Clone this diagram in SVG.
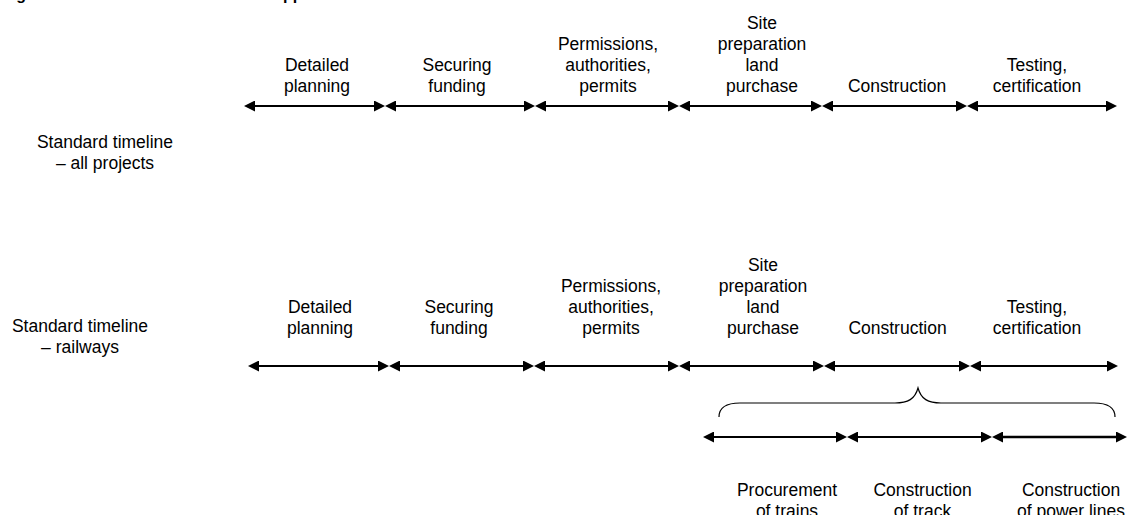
<svg xmlns="http://www.w3.org/2000/svg" width="1127" height="515" viewBox="0 0 1127 515">
<defs>
<style>
text{font-family:"Liberation Sans",Arial,sans-serif;font-size:17.5px;fill:#000;text-anchor:middle}
.title{font-weight:bold;font-size:16px;text-anchor:start}
.seg{stroke:#000;stroke-width:2;fill:none;marker-start:url(#ah);marker-end:url(#ah)}
.brace{stroke:#000;stroke-width:1.2;fill:none}
</style>
<marker id="ah" viewBox="0 0 11 11" refX="2" refY="5.5" markerWidth="11" markerHeight="11" markerUnits="userSpaceOnUse" orient="auto-start-reverse">
<path d="M0,0 L11,5.5 L0,11 z" fill="#000"/>
</marker>
</defs>
<rect width="1127" height="515" fill="#fff"/>
<text class="title" x="2" y="0">Figure 1: Standard and rail timeline <tspan x="274">approach</tspan></text>

<g id="label-all"><text x="105" y="148">Standard timeline</text><text x="105" y="169">– all projects</text></g>
<g id="label-rail"><text x="80" y="332">Standard timeline</text><text x="80" y="353">– railways</text></g>

<g id="connectors">
<line class="seg" x1="253" y1="106" x2="376" y2="106"/>
<line class="seg" x1="394" y1="106" x2="526" y2="106"/>
<line class="seg" x1="544" y1="106" x2="670" y2="106"/>
<line class="seg" x1="688" y1="106" x2="813" y2="106"/>
<line class="seg" x1="831" y1="106" x2="958" y2="106"/>
<line class="seg" x1="976" y1="106" x2="1108" y2="106"/>

<line class="seg" x1="257" y1="366" x2="380" y2="366"/>
<line class="seg" x1="398" y1="366" x2="525" y2="366"/>
<line class="seg" x1="543" y1="366" x2="670" y2="366"/>
<line class="seg" x1="688" y1="366" x2="815" y2="366"/>
<line class="seg" x1="833" y1="366" x2="961" y2="366"/>
<line class="seg" x1="979" y1="366" x2="1109" y2="366"/>

<line class="seg" x1="712" y1="437" x2="838" y2="437"/>
<line class="seg" x1="856" y1="437" x2="983" y2="437"/>
<line class="seg" x1="1001" y1="437" x2="1118" y2="437" style="stroke-width:2.6"/>

<path class="brace" d="M719,417 C719,408 725,403 740,403 L895,403 C908,403 915,399 918,388 C921,399 928,403 941,403 L1094,403 C1109,403 1115,408 1115,417"/>
</g>

<g id="top-1"><text x="317" y="71">Detailed</text><text x="317" y="92">planning</text></g>
<g id="top-2"><text x="457" y="71">Securing</text><text x="457" y="92">funding</text></g>
<g id="top-3"><text x="608" y="49.5">Permissions,</text><text x="608" y="70.5">authorities,</text><text x="608" y="91.5">permits</text></g>
<g id="top-4"><text x="762" y="28.5">Site</text><text x="762" y="49.5">preparation</text><text x="762" y="70.5">land</text><text x="762" y="91.5">purchase</text></g>
<g id="top-5"><text x="897" y="91.5">Construction</text></g>
<g id="top-6"><text x="1037" y="70.5">Testing,</text><text x="1037" y="91.5">certification</text></g>

<g id="bot-1"><text x="320" y="312.7">Detailed</text><text x="320" y="333.7">planning</text></g>
<g id="bot-2"><text x="459" y="312.7">Securing</text><text x="459" y="333.7">funding</text></g>
<g id="bot-3"><text x="611" y="291.7">Permissions,</text><text x="611" y="312.7">authorities,</text><text x="611" y="333.7">permits</text></g>
<g id="bot-4"><text x="763" y="270.7">Site</text><text x="763" y="291.7">preparation</text><text x="763" y="312.7">land</text><text x="763" y="333.7">purchase</text></g>
<g id="bot-5"><text x="897.5" y="333.7">Construction</text></g>
<g id="bot-6"><text x="1037" y="312.7">Testing,</text><text x="1037" y="333.7">certification</text></g>

<g id="sub-1"><text x="787" y="495.7">Procurement</text><text x="787" y="516.7">of trains</text></g>
<g id="sub-2"><text x="922.5" y="495.7">Construction</text><text x="922.5" y="516.7">of track</text></g>
<g id="sub-3"><text x="1071" y="495.7">Construction</text><text x="1071" y="516.7">of power lines</text></g>
</svg>
